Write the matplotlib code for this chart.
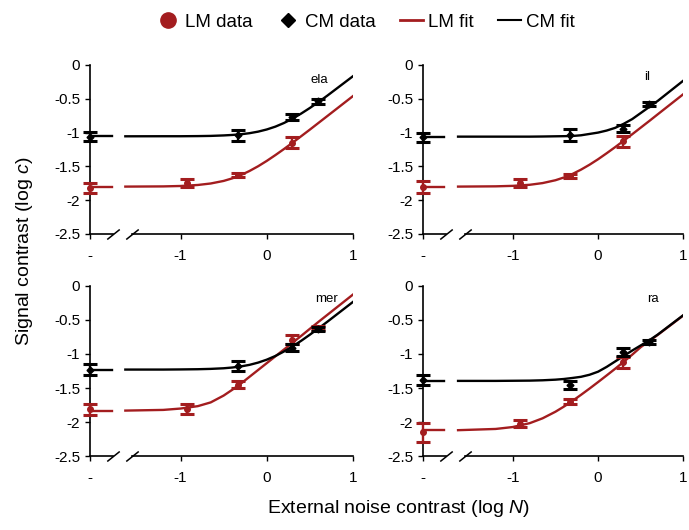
import matplotlib
matplotlib.use('Agg')
import matplotlib.pyplot as plt
from matplotlib.lines import Line2D
import numpy as np

plt.rcParams['font.family'] = ['Liberation Sans', 'DejaVu Sans']
plt.rcParams['mathtext.fontset'] = 'custom'
plt.rcParams['mathtext.it'] = 'Liberation Sans:italic'
plt.rcParams['mathtext.rm'] = 'Liberation Sans'

nan = np.nan
observers = ['ela', 'il', 'mer', 'ra']

# external noise levels (log N); the no-noise condition is drawn at the axis origin
noise = [-0.92, -0.33, 0.29, 0.6]

# no-noise thresholds (log c)
lm_zero = [-1.82, -1.80, -1.81, -2.15]
lm_zero_err = [0.08, 0.09, 0.08, 0.14]
cm_zero = [-1.06, -1.07, -1.23, -1.38]
cm_zero_err = [0.07, 0.07, 0.08, 0.07]

# thresholds at each noise level
lm_data = [[-1.75, -1.63, -1.15, nan],
           [-1.74, -1.64, -1.13, nan],
           [-1.81, -1.45, -0.79, -0.62],
           [-2.02, -1.70, -1.12, nan]]
lm_err = [[0.06, 0.03, 0.08, nan],
          [0.06, 0.03, 0.08, nan],
          [0.07, 0.05, 0.07, 0.03],
          [0.05, 0.04, 0.08, nan]]
cm_data = [[nan, -1.04, -0.77, -0.54],
           [nan, -1.03, -0.94, -0.58],
           [nan, -1.18, -0.91, -0.63],
           [nan, -1.46, -0.97, -0.83]]
cm_err = [[nan, 0.08, 0.05, 0.04],
          [nan, 0.09, 0.05, 0.03],
          [nan, 0.07, 0.05, 0.03],
          [nan, 0.06, 0.06, 0.03]]

# fitted curves
fit_x = [-1.64, -1.2, -1.0, -0.8, -0.65, -0.5, -0.4, -0.3, -0.2, -0.1,
         0.0, 0.1, 0.2, 0.3, 0.4, 0.5, 0.6, 0.7, 1.0]
lm_fit = [[-1.799, -1.796, -1.790, -1.775, -1.753, -1.715, -1.677, -1.629, -1.568, -1.498,
           -1.419, -1.333, -1.243, -1.149, -1.053, -0.956, -0.857, -0.758, -0.460],
          [-1.799, -1.795, -1.788, -1.772, -1.747, -1.705, -1.664, -1.612, -1.548, -1.475,
           -1.394, -1.306, -1.215, -1.120, -1.024, -0.926, -0.828, -0.728, -0.430],
          [-1.830, -1.820, -1.800, -1.765, -1.710, -1.610, -1.525, -1.435, -1.335, -1.235,
           -1.135, -1.035, -0.935, -0.835, -0.735, -0.632, -0.530, -0.430, -0.130],
          [-2.117, -2.099, -2.071, -2.014, -1.943, -1.847, -1.771, -1.688, -1.599, -1.507,
           -1.412, -1.315, -1.217, -1.115, -1.010, -0.900, -0.810, -0.720, -0.435]]
cm_fit = [[-1.055, -1.054, -1.054, -1.052, -1.049, -1.042, -1.035, -1.025, -1.009, -0.986,
           -0.954, -0.912, -0.858, -0.793, -0.718, -0.636, -0.548, -0.456, -0.166],
          [-1.060, -1.060, -1.060, -1.060, -1.058, -1.055, -1.053, -1.050, -1.040, -1.020,
           -1.000, -0.970, -0.930, -0.870, -0.800, -0.710, -0.620, -0.530, -0.230],
          [-1.229, -1.229, -1.227, -1.224, -1.219, -1.210, -1.199, -1.183, -1.160, -1.127,
           -1.084, -1.030, -0.964, -0.889, -0.807, -0.718, -0.626, -0.531, -0.238],
          [-1.395, -1.395, -1.393, -1.391, -1.386, -1.377, -1.367, -1.352, -1.335, -1.305,
           -1.260, -1.190, -1.110, -1.030, -0.950, -0.875, -0.800, -0.715, -0.430]]

yticks = [0, -0.5, -1, -1.5, -2, -2.5]
ytick_labels = ['0', '-0.5', '-1', '-1.5', '-2', '-2.5']

# layout
x_zero = -2.05          # where the no-noise condition sits on the x axis
stub_end = -1.80
brk = [-1.78, -1.56]
red = '#a31d1f'
positions = [[0.1306, 0.5585, 0.3817, 0.3189],
             [0.614, 0.5585, 0.378, 0.3189],
             [0.1306, 0.139, 0.3817, 0.322],
             [0.614, 0.139, 0.378, 0.322]]
name_xy = [(0.61, -0.22), (0.58, -0.18), (0.69, -0.19), (0.64, -0.20)]

fig = plt.figure(figsize=(6.89, 5.30), dpi=100)

for i, obs in enumerate(observers):
    ax = fig.add_axes(positions[i])
    ax.set_xlim(x_zero, 1.0)
    ax.set_ylim(-2.5, 0)
    for s in ['top', 'right', 'bottom']:
        ax.spines[s].set_visible(False)
    ax.spines['left'].set_linewidth(1.2)

    # broken x axis
    ax.plot([x_zero, brk[0]], [-2.5, -2.5], color='k', lw=1.2, clip_on=False)
    ax.plot([brk[1], 1.0], [-2.5, -2.5], color='k', lw=1.2, clip_on=False)
    ax.plot(brk, [-2.5, -2.5], ls='none', marker=[(-1, -0.8), (1, 0.8)],
            markersize=9, mec='k', mew=1.1, color='k', clip_on=False)

    # fit curves
    for fit, col in [(lm_fit[i], red), (cm_fit[i], 'k')]:
        ax.plot(fit_x, fit, color=col, lw=1.7, zorder=2)
        ax.plot([x_zero, stub_end], [fit[0], fit[0]], color=col, lw=1.7, zorder=2,
                clip_on=False)

    # data with error bars
    ax.errorbar(noise, lm_data[i], yerr=lm_err[i], fmt='o', color=red, ms=4,
                capsize=5, elinewidth=1.7, capthick=2.2, zorder=4, clip_on=False)
    ax.errorbar([x_zero], [lm_zero[i]], yerr=[lm_zero_err[i]], fmt='o', color=red,
                ms=4, capsize=5, elinewidth=1.7, capthick=2.2, zorder=4, clip_on=False)
    ax.errorbar(noise, cm_data[i], yerr=cm_err[i], fmt='D', color='k', ms=3.5,
                capsize=5, elinewidth=1.7, capthick=2.2, zorder=5, clip_on=False)
    ax.errorbar([x_zero], [cm_zero[i]], yerr=[cm_zero_err[i]], fmt='D', color='k',
                ms=3.5, capsize=5, elinewidth=1.7, capthick=2.2, zorder=5, clip_on=False)

    ax.text(name_xy[i][0], name_xy[i][1], obs, fontsize=9.5, ha='center', va='center')

    ax.set_yticks(yticks)
    ax.set_yticklabels(ytick_labels)
    ax.set_xticks([x_zero, -1, 0, 1])
    ax.set_xticklabels(['-', '-1', '0', '1'])
    ax.tick_params(axis='both', labelsize=11, length=3.5, width=1)
    ax.tick_params(axis='x', pad=7)
    ax.patch.set_visible(False)

fig.text(0.035, 0.526, 'Signal contrast (log $c$)', rotation=90, fontsize=14,
         ha='center', va='center')
fig.text(0.578, 0.04, 'External noise contrast (log $N$)', fontsize=14,
         ha='center', va='center')

handles = [Line2D([], [], ls='none', marker='o', color=red, ms=11),
           Line2D([], [], ls='none', marker='D', color='k', ms=7),
           Line2D([], [], color=red, lw=2),
           Line2D([], [], color='k', lw=1.5)]
fig.legend(handles, ['LM data', 'CM data', 'LM fit', 'CM fit'], ncol=4,
           loc='center', bbox_to_anchor=(0.531, 0.958), frameon=False,
           fontsize=13.5, handlelength=1.2, handletextpad=0.3, columnspacing=1.3)

fig.savefig('out.png', dpi=100)
